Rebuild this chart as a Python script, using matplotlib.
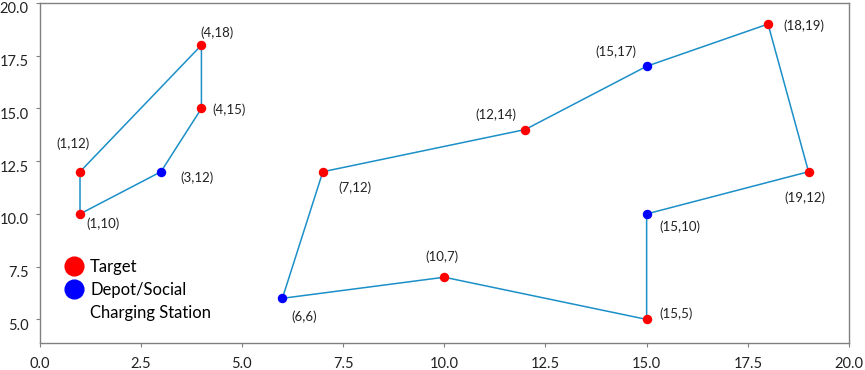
import matplotlib
matplotlib.use('Agg')
import matplotlib.pyplot as plt
import matplotlib.transforms as mtransforms
from matplotlib.lines import Line2D

plt.rcParams['font.family'] = ['Lato', 'DejaVu Sans']

# route 1 (left loop) and route 2 (big loop), closed tours
route1_x = [1, 4, 4, 3, 1, 1]
route1_y = [12, 18, 15, 12, 10, 12]
route2_x = [6, 7, 12, 15, 18, 19, 15, 15, 10, 6]
route2_y = [6, 12, 14, 17, 19, 12, 10, 5, 7, 6]

# node types
target_x = [1, 1, 4, 4, 7, 12, 18, 19, 15, 10]
target_y = [12, 10, 18, 15, 12, 14, 19, 12, 5, 7]
depot_x = [3, 6, 15, 15]
depot_y = [12, 6, 17, 10]

# label offsets in pixels (dx, dy) for each point label
label_pts = [(4, 18), (4, 15), (1, 12), (3, 12), (1, 10), (7, 12), (12, 14),
             (15, 17), (18, 19), (19, 12), (15, 10), (15, 5), (10, 7), (6, 6)]
label_off = [(16, 12), (28, -1), (-7, 28), (36, -6), (23, -10), (32, -16), (-29, 15),
             (-31, 15), (36, -2), (-4, -26), (33, -13), (29, 6), (-2, 20), (22, -18)]

line_color = '#1b8fc8'

fig = plt.figure(figsize=(8.65, 3.7), dpi=100)
ax = fig.add_axes([0.0457, 0.074, 0.9358, 0.918])

ax.plot(route1_x, route1_y, color=line_color, lw=1.1, zorder=1)
ax.plot(route2_x, route2_y, color=line_color, lw=1.1, zorder=1)
ax.plot(target_x, target_y, 'o', color='#ff0000', ms=5.8, zorder=2)
ax.plot(depot_x, depot_y, 'o', color='#0000ff', ms=5.8, zorder=2)

for (px, py), (dx, dy) in zip(label_pts, label_off):
    ax.annotate(f'({px},{py})', (px, py), xytext=(dx, dy), textcoords='offset pixels',
                ha='center', va='center', fontsize=9.5, color='#222222')

ax.set_xlim(0, 20)
ax.set_ylim(3.9, 20.0)
ax.set_xticks([0, 2.5, 5, 7.5, 10, 12.5, 15, 17.5, 20])
ax.set_yticks([5, 7.5, 10, 12.5, 15, 17.5, 20])
ax.set_xticklabels(['0.0', '2.5', '5.0', '7.5', '10.0', '12.5', '15.0', '17.5', '20.0'])
ax.set_yticklabels(['5.0', '7.5', '10.0', '12.5', '15.0', '17.5', '20.0'])
ax.tick_params(labelsize=10.5, colors='#808080', labelcolor='#222222',
               length=3, width=0.8)
ax.tick_params(axis='x', pad=7)
ax.tick_params(axis='y', pad=5)

# y labels sit a little below their ticks, as in the original
shift = mtransforms.ScaledTranslation(0, -0.05, fig.dpi_scale_trans)
for lbl in ax.get_yticklabels():
    lbl.set_transform(lbl.get_transform() + shift)

for sp in ax.spines.values():
    sp.set_color('#808080')
    sp.set_linewidth(1.0)

handles = [Line2D([], [], ls='', marker='o', color='#ff0000', ms=13.5),
           Line2D([], [], ls='', marker='o', color='#0000ff', ms=13.5),
           Line2D([], [], ls='', marker='')]
ax.legend(handles, ['Target', 'Depot/Social', 'Charging Station'], loc='lower left',
          bbox_to_anchor=(0.012, 0.02), frameon=False, fontsize=12,
          handletextpad=0.35, labelspacing=0.42, handlelength=1.2)

fig.savefig('out.png', dpi=100)
